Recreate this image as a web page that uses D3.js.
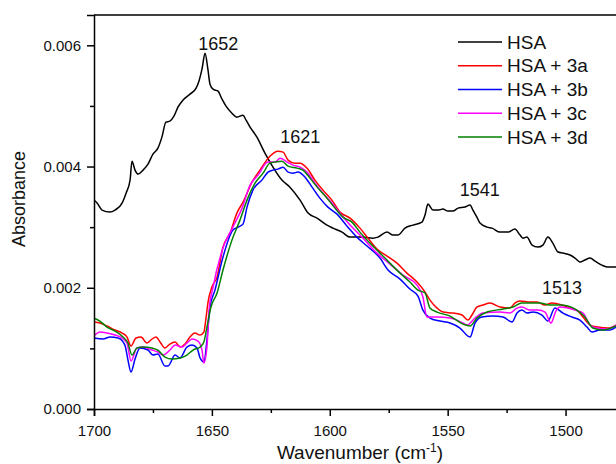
<!DOCTYPE html>
<html>
<head>
<meta charset="utf-8">
<script src="https://cdn.jsdelivr.net/npm/d3@7"></script>
<style>
  html, body { margin: 0; padding: 0; background: #fff; }
  svg { display: block; font-family: "Liberation Sans", Arial, sans-serif; }
</style>
</head>
<body>
<div id="chart"></div>
<script>
// spectra as [wavenumber (cm-1), absorbance]
const hsa = [
  [1700, 0.003446], [1698.7, 0.003397], [1696.6, 0.003281], [1693.2, 0.003248], [1691.1, 0.003281],
  [1688.1, 0.003397], [1686.4, 0.003561], [1684.7, 0.003776], [1683.9, 0.004089], [1682.6, 0.003941],
  [1681.3, 0.003875], [1679.2, 0.003941], [1677.1, 0.004040], [1675.0, 0.004204], [1672.9, 0.004303],
  [1671.2, 0.004485], [1669.5, 0.004732], [1667.8, 0.004749], [1666.1, 0.004831], [1664.4, 0.004979],
  [1662.3, 0.005095], [1659.3, 0.005194], [1656.7, 0.005293], [1655.5, 0.005408], [1654.2, 0.005606],
  [1652.9, 0.005870], [1651.7, 0.005606], [1650.8, 0.005359], [1649.5, 0.005276], [1647.4, 0.005243],
  [1645.7, 0.005111], [1644.0, 0.004996], [1641.5, 0.004880], [1639.4, 0.004814], [1636.8, 0.004847],
  [1635.5, 0.004765], [1633.8, 0.004650], [1630.9, 0.004485], [1627.5, 0.004221], [1624.1, 0.003990],
  [1620.3, 0.003776], [1616.9, 0.003660], [1612.6, 0.003446], [1609.2, 0.003232], [1605.4, 0.003149],
  [1601.2, 0.003034], [1598.6, 0.002984], [1594.8, 0.002918], [1591.4, 0.002836], [1587.2, 0.002836],
  [1581.7, 0.002819], [1579.6, 0.002836], [1575.7, 0.002918], [1573.2, 0.002869], [1571.1, 0.002869],
  [1568.1, 0.002984], [1564.7, 0.003034], [1560.9, 0.003083], [1559.6, 0.003199], [1558.4, 0.003380],
  [1556.2, 0.003281], [1554.1, 0.003281], [1552.0, 0.003298], [1549.9, 0.003265], [1547.8, 0.003265],
  [1545.6, 0.003314], [1542.7, 0.003331], [1540.5, 0.003364], [1539.3, 0.003281], [1537.6, 0.003166],
  [1536.3, 0.003067], [1533.3, 0.003001], [1531.2, 0.002984], [1527.8, 0.002918], [1524.4, 0.002918],
  [1521.5, 0.002968], [1519.3, 0.002869], [1518.1, 0.002819], [1516.4, 0.002836], [1514.2, 0.002704],
  [1511.7, 0.002671], [1509.6, 0.002704], [1507.5, 0.002836], [1505.4, 0.002737], [1503.2, 0.002589],
  [1501.1, 0.002572], [1498.1, 0.002540], [1496.0, 0.002490], [1493.9, 0.002424], [1491.8, 0.002457],
  [1489.6, 0.002490], [1487.5, 0.002440], [1484.6, 0.002374], [1482.0, 0.002341], [1478.6, 0.002341]
];

const hsa3a = [
  [1700, 0.001434], [1697.5, 0.001418], [1694.5, 0.001369], [1691.1, 0.001303], [1688.1, 0.001253],
  [1686.0, 0.001187], [1684.3, 0.001039], [1682.2, 0.001171], [1680.1, 0.001187], [1677.5, 0.001088],
  [1675.4, 0.001154], [1673.7, 0.001187], [1672.0, 0.001105], [1669.9, 0.001006], [1667.8, 0.001072],
  [1665.6, 0.001105], [1663.5, 0.001022], [1661.4, 0.001072], [1659.3, 0.001187], [1657.2, 0.001253],
  [1655.0, 0.001220], [1653.4, 0.001270], [1652.5, 0.001500], [1651.7, 0.001748], [1650.0, 0.002012],
  [1647.8, 0.002176], [1645.3, 0.002671], [1642.3, 0.002902], [1639.4, 0.003232], [1636.8, 0.003413],
  [1633.0, 0.003743], [1629.6, 0.003941], [1625.4, 0.004171], [1622.0, 0.004254], [1619.8, 0.004237],
  [1617.7, 0.004106], [1614.8, 0.004056], [1612.6, 0.004056], [1609.7, 0.003974], [1606.3, 0.003776],
  [1602.9, 0.003611], [1599.1, 0.003446], [1595.7, 0.003248], [1591.4, 0.003149], [1587.2, 0.002984],
  [1583.8, 0.002819], [1580.0, 0.002638], [1575.7, 0.002523], [1571.5, 0.002407], [1567.3, 0.002242],
  [1563.0, 0.002094], [1559.6, 0.001929], [1557.5, 0.001797], [1554.5, 0.001665], [1552.0, 0.001599],
  [1547.8, 0.001583], [1543.9, 0.001550], [1541.4, 0.001467], [1539.7, 0.001550], [1537.6, 0.001682],
  [1535.0, 0.001715], [1532.1, 0.001748], [1527.8, 0.001682], [1523.6, 0.001665], [1521.5, 0.001748],
  [1519.3, 0.001781], [1515.1, 0.001764], [1512.1, 0.001764], [1508.7, 0.001715], [1505.8, 0.001748],
  [1501.5, 0.001715], [1498.1, 0.001665], [1494.7, 0.001616], [1492.6, 0.001517], [1489.6, 0.001385],
  [1486.3, 0.001352], [1482.0, 0.001336], [1478.6, 0.001385]
];

const hsa3b = [
  [1700, 0.001171], [1696.2, 0.001154], [1693.2, 0.001187], [1689.8, 0.001171], [1686.9, 0.001055],
  [1685.6, 0.000808], [1684.3, 0.000610], [1682.6, 0.000824], [1680.5, 0.001006], [1677.1, 0.000973],
  [1675.0, 0.000890], [1672.9, 0.000907], [1669.9, 0.000709], [1668.6, 0.000709], [1665.6, 0.000890],
  [1663.5, 0.000841], [1660.6, 0.001022], [1658.4, 0.001055], [1656.3, 0.001006], [1655.0, 0.000841],
  [1653.4, 0.000775], [1652.1, 0.001138], [1650.8, 0.001682], [1648.7, 0.001962], [1645.3, 0.002506],
  [1641.1, 0.002951], [1638.9, 0.003001], [1636.8, 0.003050], [1635.1, 0.003331], [1632.6, 0.003611],
  [1628.8, 0.003776], [1626.2, 0.003908], [1624.1, 0.003941], [1622.0, 0.003957], [1619.8, 0.003990],
  [1617.7, 0.003908], [1615.6, 0.003891], [1613.5, 0.003908], [1610.5, 0.003825], [1607.5, 0.003660],
  [1604.2, 0.003479], [1600.8, 0.003331], [1596.9, 0.003215], [1592.7, 0.003017], [1588.5, 0.002836],
  [1584.2, 0.002688], [1578.7, 0.002490], [1575.3, 0.002292], [1570.2, 0.002143], [1566.0, 0.001979],
  [1562.6, 0.001863], [1560.5, 0.001632], [1557.5, 0.001500], [1553.3, 0.001451], [1549.0, 0.001418],
  [1544.8, 0.001336], [1540.5, 0.001187], [1538.4, 0.001418], [1535.5, 0.001517], [1530.8, 0.001533],
  [1526.5, 0.001517], [1522.7, 0.001434], [1520.6, 0.001583], [1518.5, 0.001632], [1516.4, 0.001583],
  [1513.8, 0.001599], [1510.0, 0.001550], [1507.5, 0.001451], [1504.5, 0.001665], [1501.1, 0.001583],
  [1497.3, 0.001517], [1493.9, 0.001467], [1490.9, 0.001352], [1488.8, 0.001270], [1485.4, 0.001303],
  [1481.2, 0.001303], [1478.6, 0.001352]
];

const hsa3c = [
  [1700, 0.001204], [1697.5, 0.001270], [1694.5, 0.001253], [1691.1, 0.001220], [1688.1, 0.001171],
  [1686.0, 0.001088], [1684.3, 0.000791], [1681.8, 0.001006], [1679.2, 0.001022], [1675.4, 0.000973],
  [1672.9, 0.000940], [1670.7, 0.000890], [1667.8, 0.000973], [1665.6, 0.001055], [1662.7, 0.001022],
  [1660.6, 0.001088], [1658.4, 0.001154], [1655.9, 0.001121], [1654.2, 0.000973], [1653.4, 0.000758],
  [1652.1, 0.001022], [1651.2, 0.001632], [1649.5, 0.002012], [1645.3, 0.002655], [1641.1, 0.003001],
  [1637.2, 0.003314], [1633.8, 0.003693], [1630.4, 0.003858], [1626.2, 0.004073], [1623.2, 0.004073],
  [1621.1, 0.004138], [1618.1, 0.004073], [1615.6, 0.004023], [1612.6, 0.003990], [1609.7, 0.003908],
  [1606.3, 0.003726], [1602.9, 0.003561], [1599.1, 0.003397], [1595.7, 0.003232], [1591.4, 0.003034],
  [1585.9, 0.002819], [1580.0, 0.002572], [1574.5, 0.002391], [1569.0, 0.002209], [1563.0, 0.002044],
  [1560.5, 0.001847], [1558.8, 0.001517], [1554.5, 0.001517], [1549.0, 0.001500], [1543.5, 0.001418],
  [1541.8, 0.001385], [1538.4, 0.001500], [1535.0, 0.001583], [1527.8, 0.001599], [1523.6, 0.001583],
  [1520.6, 0.001665], [1518.5, 0.001682], [1515.1, 0.001632], [1511.7, 0.001632], [1508.7, 0.001599],
  [1506.2, 0.001418], [1504.1, 0.001616], [1502.4, 0.001682], [1499.0, 0.001665], [1496.0, 0.001632],
  [1492.6, 0.001583], [1489.6, 0.001385], [1486.7, 0.001336], [1482.4, 0.001319], [1478.6, 0.001385]
];

const hsa3d = [
  [1700, 0.001500], [1697.5, 0.001451], [1694.5, 0.001352], [1691.1, 0.001286], [1687.7, 0.001187],
  [1685.6, 0.001088], [1683.9, 0.000890], [1681.8, 0.001006], [1679.2, 0.001022], [1675.4, 0.001006],
  [1672.9, 0.000973], [1669.9, 0.000857], [1666.9, 0.000824], [1663.5, 0.000841], [1660.6, 0.000890],
  [1658.0, 0.000973], [1655.0, 0.001022], [1653.4, 0.001105], [1652.1, 0.001352], [1650.4, 0.001682],
  [1647.8, 0.001913], [1645.3, 0.002292], [1641.5, 0.002786], [1638.1, 0.003116], [1635.1, 0.003446],
  [1631.7, 0.003726], [1628.3, 0.003891], [1625.4, 0.004056], [1623.2, 0.004073], [1620.3, 0.004089],
  [1617.7, 0.004007], [1613.9, 0.003974], [1611.4, 0.003941], [1608.4, 0.003809], [1605.0, 0.003644],
  [1601.2, 0.003479], [1597.8, 0.003314], [1594.4, 0.003166], [1590.6, 0.003083], [1587.2, 0.002918],
  [1583.0, 0.002737], [1578.7, 0.002572], [1574.5, 0.002407], [1570.2, 0.002242], [1566.0, 0.002094],
  [1562.6, 0.001962], [1559.6, 0.001913], [1557.5, 0.001665], [1554.5, 0.001599], [1549.0, 0.001533],
  [1543.5, 0.001401], [1540.5, 0.001369], [1537.6, 0.001500], [1533.3, 0.001599], [1526.5, 0.001649],
  [1522.3, 0.001682], [1518.5, 0.001748], [1515.1, 0.001748], [1510.9, 0.001748], [1506.6, 0.001715],
  [1502.4, 0.001715], [1499.0, 0.001698], [1495.2, 0.001632], [1491.8, 0.001517], [1488.4, 0.001336],
  [1484.2, 0.001303], [1478.6, 0.001369]
];

const seriesNames = ['HSA', 'HSA + 3a', 'HSA + 3b', 'HSA + 3c', 'HSA + 3d'];
const seriesData = [hsa, hsa3a, hsa3b, hsa3c, hsa3d];
const seriesColors = ['#000000', '#ff0000', '#0000ff', '#ff00ff', '#008000'];

const xMajorTicks = [1700, 1650, 1600, 1550, 1500];
const xMinorTicks = [1675, 1625, 1575, 1525, 1475];
const yMajorTicks = [0, 0.002, 0.004, 0.006];
const yMinorTicks = [0.001, 0.003, 0.005];

// peak labels, anchored at [wavenumber, absorbance]
const peakLabels = ['1652', '1621', '1541', '1513'];
const peakAnchors = [[1647.3, 0.00592], [1612.5, 0.00439], [1536.4, 0.00351], [1501.5, 0.0019]];

const W = 616, H = 464;
const margin = {top: 15, left: 94, bottom: 55};
const plotW = 530.5;
const plotH = H - margin.top - margin.bottom;

const svg = d3.select('#chart')
  .append('svg')
  .attr('width', W)
  .attr('height', H);

const x = d3.scaleLinear()
  .domain([1700, 1475])
  .range([margin.left, margin.left + plotW]);

const y = d3.scaleLinear()
  .domain([0, 0.0065])
  .range([margin.top + plotH, margin.top]);

svg.append('defs').append('clipPath')
  .attr('id', 'plot-clip')
  .append('rect')
  .attr('x', margin.left)
  .attr('y', margin.top)
  .attr('width', plotW)
  .attr('height', plotH);

const line = d3.line()
  .x(d => x(d[0]))
  .y(d => y(d[1]))
  .curve(d3.curveMonotoneX);

const lines = svg.append('g').attr('clip-path', 'url(#plot-clip)');
seriesData.forEach((s, i) => {
  lines.append('path')
    .datum(s)
    .attr('fill', 'none')
    .attr('stroke', seriesColors[i])
    .attr('stroke-width', 1.5)
    .attr('stroke-linejoin', 'round')
    .attr('d', line);
});

// axes
svg.append('g')
  .attr('class', 'x-axis')
  .attr('transform', 'translate(0,' + (margin.top + plotH) + ')')
  .call(d3.axisBottom(x).tickValues(xMajorTicks).tickSize(7).tickPadding(9).tickFormat(d3.format('d')));

svg.append('g')
  .attr('transform', 'translate(0,' + (margin.top + plotH) + ')')
  .call(d3.axisBottom(x).tickValues(xMinorTicks).tickSize(4).tickFormat(''))
  .call(g => g.select('.domain').remove());

svg.append('g')
  .attr('class', 'y-axis')
  .attr('transform', 'translate(' + margin.left + ',0)')
  .call(d3.axisLeft(y).tickValues(yMajorTicks).tickSize(7).tickPadding(6).tickFormat(d3.format('.3f')));

svg.append('g')
  .attr('transform', 'translate(' + margin.left + ',0)')
  .call(d3.axisLeft(y).tickValues(yMinorTicks).tickSize(4).tickFormat(''))
  .call(g => g.select('.domain').remove());

svg.selectAll('.domain')
  .attr('stroke', '#000')
  .attr('stroke-width', 1.5);
svg.selectAll('.tick line')
  .attr('stroke', '#000')
  .attr('stroke-width', 1.5);
svg.selectAll('.tick text')
  .attr('fill', '#111')
  .style('font-size', '15px')
  .style('font-family', '"Liberation Sans", Arial, sans-serif');

// top frame line
svg.append('line')
  .attr('x1', margin.left)
  .attr('x2', margin.left + plotW)
  .attr('y1', margin.top)
  .attr('y2', margin.top)
  .attr('stroke', '#000')
  .attr('stroke-width', 1.5);

// axis titles
const xTitle = svg.append('text')
  .attr('x', 360)
  .attr('y', 459)
  .attr('text-anchor', 'middle')
  .style('font-size', '19px')
  .attr('fill', '#111');
xTitle.append('tspan').text('Wavenumber (cm');
xTitle.append('tspan').attr('dy', -7).style('font-size', '12px').text('-1');
xTitle.append('tspan').attr('dy', 7).text(')');

svg.append('text')
  .attr('transform', 'translate(25,199) rotate(-90)')
  .attr('text-anchor', 'middle')
  .style('font-size', '18px')
  .attr('fill', '#111')
  .text('Absorbance');

// peak labels
svg.selectAll('.peak')
  .data(peakLabels)
  .join('text')
  .attr('class', 'peak')
  .attr('x', (d, i) => x(peakAnchors[i][0]))
  .attr('y', (d, i) => y(peakAnchors[i][1]))
  .attr('text-anchor', 'middle')
  .style('font-size', '18px')
  .attr('fill', '#111')
  .text(d => d);

// legend
const legend = svg.append('g').attr('transform', 'translate(458,42)');
seriesNames.forEach((name, i) => {
  const row = legend.append('g').attr('transform', 'translate(0,' + (i * 23.75) + ')');
  row.append('line')
    .attr('x1', 0).attr('x2', 44)
    .attr('stroke', seriesColors[i])
    .attr('stroke-width', 1.5);
  row.append('text')
    .attr('x', 49)
    .attr('y', 6.5)
    .style('font-size', '19px')
    .attr('fill', '#111')
    .text(name);
});
</script>
</body>
</html>
